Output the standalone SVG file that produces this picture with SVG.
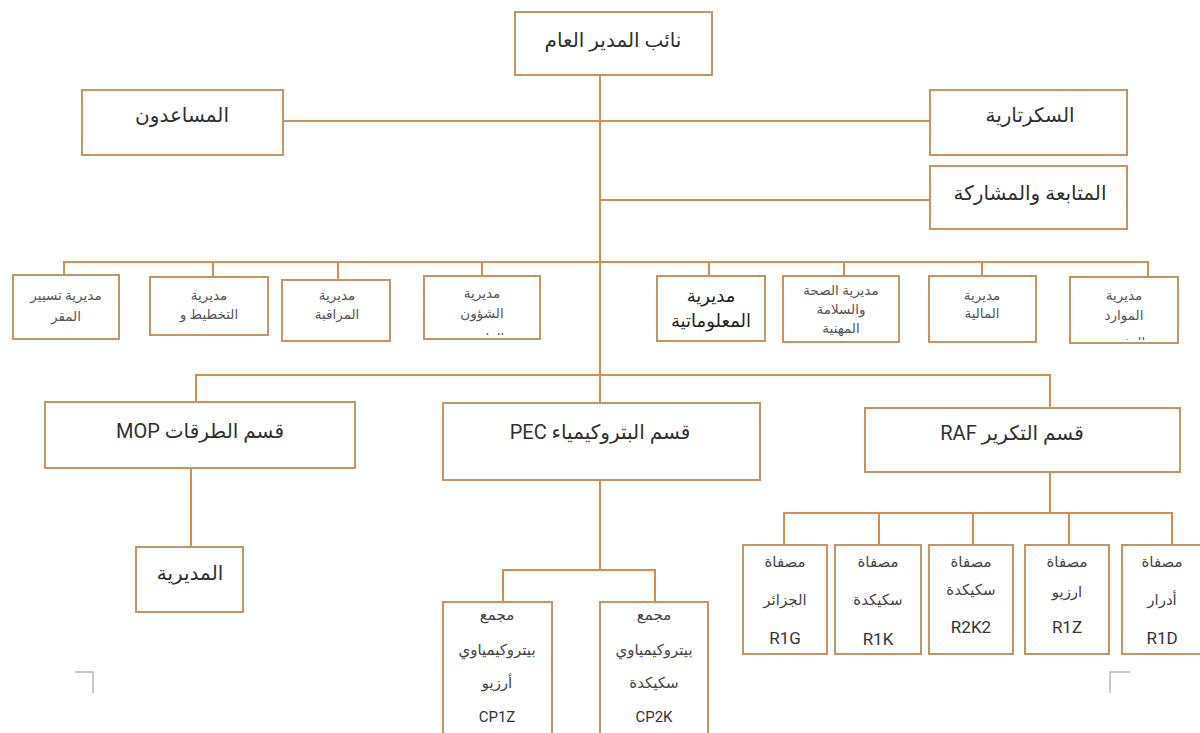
<svg xmlns="http://www.w3.org/2000/svg" width="1200" height="733" viewBox="0 0 1200 733">
<style>
.box{fill:#ffffff;stroke:#c99262;stroke-width:2}
.ln{fill:none;stroke:#d68c4c;stroke-width:2}
.mark{fill:none;stroke:#b8b8b8;stroke-width:1.5}
text{font-family:Roboto,"DejaVu Sans","Noto Sans",sans-serif;fill:#2f2f2f;text-anchor:middle;dominant-baseline:central;direction:rtl}
.t20{font-size:20px}
.t13{font-size:13.5px;fill:#555}
.t15{font-size:15px;fill:#444}
.big{font-size:18px;fill:#222}
.code{font-size:17px;fill:#333}
</style>
<defs>
<clipPath id="c4"><rect x="424" y="277" width="116" height="58"/></clipPath>
<clipPath id="c8"><rect x="1070" y="277" width="108" height="63"/></clipPath>
</defs>
<rect width="1200" height="733" fill="#ffffff"/>
<g id="connectors">
<path class="ln" d="M600 75V375"/>
<path class="ln" d="M283 121H930"/>
<path class="ln" d="M600 200H930"/>
<path class="ln" d="M64 275V262H1148V277M213 262V277M338 262V280M482 262V276M709 262V276M844 262V276M982 262V276"/>
<path class="ln" d="M196 402V375H1050V408M600 375V403"/>
<path class="ln" d="M191 468V547"/>
<path class="ln" d="M600 480V570M503 602V570H655V602"/>
<path class="ln" d="M1050 472V513M784 545V513H1172V545M879 513V545M973 513V545M1069 513V545"/>
</g>
<g id="n-top"><rect class="box" x="515" y="12" width="197" height="63"/><text class="t20" x="613" y="40">نائب المدير العام</text></g>
<g id="n-assist"><rect class="box" x="82" y="90" width="201" height="65"/><text class="t20" x="182" y="115">المساعدون</text></g>
<g id="n-secr"><rect class="box" x="930" y="90" width="197" height="65"/><text class="t20" x="1030" y="115">السكرتارية</text></g>
<g id="n-follow"><rect class="box" x="930" y="166" width="197" height="63"/><text class="t20" x="1030" y="193">المتابعة والمشاركة</text></g>
<g id="d1"><rect class="box" x="13" y="275" width="106" height="64"/><text class="t13" x="66" y="295">مديرية تسيير</text><text class="t13" x="66" y="316">المقر</text></g>
<g id="d2"><rect class="box" x="150" y="277" width="118" height="58"/><text class="t13" x="209" y="295">مديرية</text><text class="t13" x="209" y="314">التخطيط و</text></g>
<g id="d3"><rect class="box" x="282" y="280" width="108" height="61"/><text class="t13" x="337" y="295">مديرية</text><text class="t13" x="337" y="314">المراقبة</text></g>
<g id="d4"><rect class="box" x="424" y="276" width="116" height="63"/><text class="t13" x="482" y="293">مديرية</text><text class="t13" x="482" y="313">الشؤون</text><g clip-path="url(#c4)"><text class="t13" x="482" y="338">القانونية</text></g></g>
<g id="d5"><rect class="box" x="657" y="276" width="108" height="65"/><text class="big" x="711" y="295">مديرية</text><text class="big" x="711" y="320">المعلوماتية</text></g>
<g id="d6"><rect class="box" x="783" y="276" width="116" height="66"/><text class="t13" x="841" y="290">مديرية الصحة</text><text class="t13" x="841" y="309">والسلامة</text><text class="t13" x="841" y="328">المهنية</text></g>
<g id="d7"><rect class="box" x="929" y="276" width="107" height="66"/><text class="t13" x="982" y="295">مديرية</text><text class="t13" x="982" y="313">المالية</text></g>
<g id="d8"><rect class="box" x="1070" y="277" width="108" height="66"/><text class="t13" x="1124" y="295">مديرية</text><text class="t13" x="1124" y="315">الموارد</text><g clip-path="url(#c8)"><text class="t13" x="1124" y="342">البشرية</text></g></g>
<g id="n-mop"><rect class="box" x="45" y="402" width="310" height="66"/><text class="t20" x="200" y="431">قسم الطرقات MOP</text></g>
<g id="n-pec"><rect class="box" x="443" y="403" width="317" height="77"/><text class="t20" x="600" y="432">قسم البتروكيمياء PEC</text></g>
<g id="n-raf"><rect class="box" x="865" y="408" width="315" height="64"/><text class="t20" x="1012" y="433">قسم التكرير RAF</text></g>
<g id="n-mop-dir"><rect class="box" x="136" y="547" width="107" height="65"/><text class="t20" x="190" y="573">المديرية</text></g>
<g id="n-cp1z"><rect class="box" x="443" y="602" width="109" height="140"/><text class="t15" x="497" y="615">مجمع</text><text class="t15" x="497" y="650">بيتروكيمياوي</text><text class="t15" x="497" y="683">أرزيو</text><text class="code" x="497" y="717" style="font-size:15px">CP1Z</text></g>
<g id="n-cp2k"><rect class="box" x="600" y="602" width="108" height="140"/><text class="t15" x="654" y="615">مجمع</text><text class="t15" x="654" y="650">بيتروكيمياوي</text><text class="t15" x="654" y="683">سكيكدة</text><text class="code" x="654" y="717" style="font-size:15px">CP2K</text></g>
<g id="n-r1g"><rect class="box" x="743" y="545" width="84" height="109"/><text class="t15" x="785" y="562">مصفاة</text><text class="t15" x="785" y="600">الجزائر</text><text class="code" x="785" y="638">R1G</text></g>
<g id="n-r1k"><rect class="box" x="835" y="545" width="86" height="109"/><text class="t15" x="878" y="562">مصفاة</text><text class="t15" x="878" y="600">سكيكدة</text><text class="code" x="878" y="639">R1K</text></g>
<g id="n-r2k2"><rect class="box" x="929" y="545" width="84" height="109"/><text class="t15" x="971" y="562">مصفاة</text><text class="t15" x="971" y="590">سكيكدة</text><text class="code" x="971" y="627">R2K2</text></g>
<g id="n-r1z"><rect class="box" x="1025" y="545" width="84" height="109"/><text class="t15" x="1067" y="562">مصفاة</text><text class="t15" x="1067" y="592">ارزيو</text><text class="code" x="1067" y="627">R1Z</text></g>
<g id="n-r1d"><rect class="box" x="1122" y="545" width="84" height="109"/><text class="t15" x="1162" y="562">مصفاة</text><text class="t15" x="1162" y="600">أدرار</text><text class="code" x="1162" y="638">R1D</text></g>
<path class="mark" d="M75 672H93V693"/>
<path class="mark" d="M1130 672H1110V693"/>
</svg>
